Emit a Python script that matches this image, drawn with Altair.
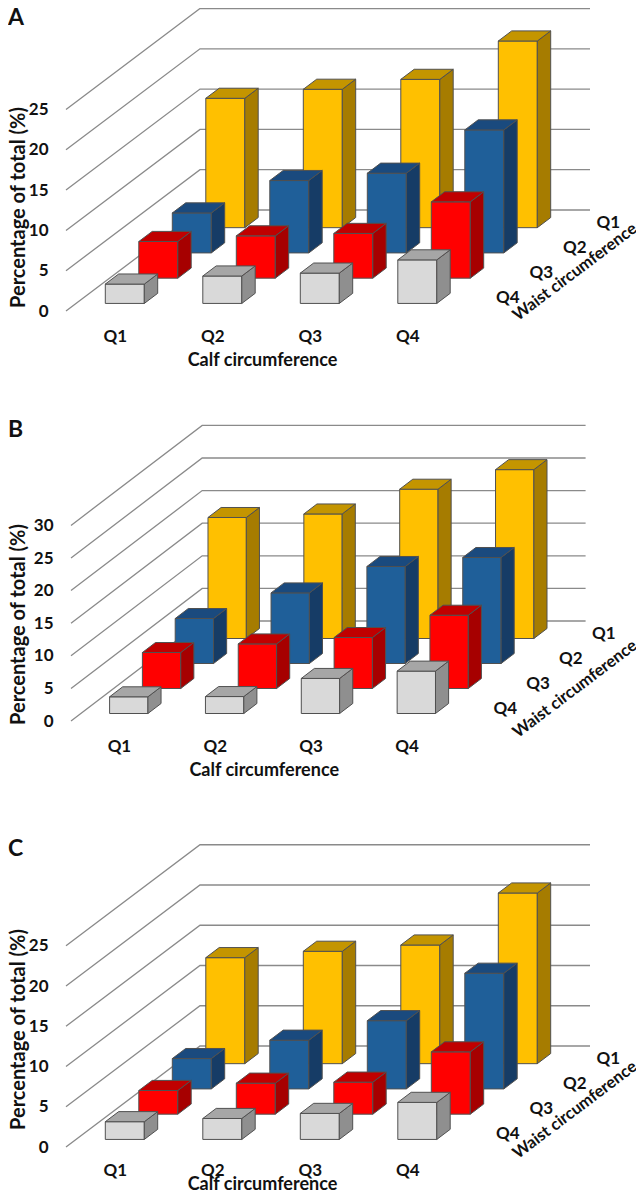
import altair as alt
import pandas as pd

# Calf circumference Q1..Q4 for each waist circumference row
a_waist_q4 = [2.4, 3.4, 3.76, 5.4]
a_waist_q3 = [4.55, 5.25, 5.55, 9.47]
a_waist_q2 = [4.96, 8.98, 9.89, 15.26]
a_waist_q1 = [16.05, 17.17, 18.4, 23.16]

b_waist_q4 = [2.56, 2.6, 5.38, 6.5]
b_waist_q3 = [5.52, 6.84, 7.82, 11.24]
b_waist_q2 = [6.9, 10.83, 14.88, 16.26]
b_waist_q1 = [18.56, 19.1, 22.9, 25.9]

c_waist_q4 = [2.2, 2.6, 3.23, 4.6]
c_waist_q3 = [2.94, 3.85, 3.98, 7.74]
c_waist_q2 = [3.77, 6.05, 8.48, 14.37]
c_waist_q1 = [13.17, 13.96, 14.74, 21.2]

quartiles = ["Q1", "Q2", "Q3", "Q4"]
ticks_ab = [0, 5, 10, 15, 20, 25]
ticks_b = [0, 5, 10, 15, 20, 25, 30]

row_palettes = [  # front, side, top; front row first
    ("#D9D9D9", "#8F8F8F", "#A6A6A6"),
    ("#FF0000", "#A60000", "#C00000"),
    ("#1F5F99", "#163C66", "#1A4A7E"),
    ("#FFC000", "#A67C00", "#C49500"),
]

FONT = "Lato"
TEXT = "#111111"
LEFT = 60      # image x of every view's left edge
VIEW_W = 570
GAP = 100


def panel(letter, rows, ticks, ox, ux, dx, dy, vu, bottom, top, right_wall,
          label_pad, ytitle_x, ytitle_y, letter_y, wt_xy, xlabel_pad=17, xtitle_y=49):
    H = bottom - top
    kx, ky = dx / ux, dy / vu

    def proj(c, v, z):
        return c + z * kx, v + z * ky

    xscale = alt.Scale(domain=[(LEFT - ox) / ux, (LEFT + VIEW_W - ox) / ux], nice=False, zero=False)
    yscale = alt.Scale(domain=[0, H / vu], nice=False, zero=False)

    grid = []
    for t in ticks:
        for k, (c, z) in enumerate([(0, 0), (0, 4), (right_wall, 4)]):
            X, Y = proj(c, t, z)
            grid.append(dict(t=t, k=k, X=X, Y=Y))

    faces = []
    fid = 0
    for r in [3, 2, 1, 0]:
        for c, v in enumerate(rows[r]):
            c0, c1, z0, z1 = c + .3, c + .7, r + .3, r + .7
            front, side, topc = row_palettes[r]
            polys = [
                (front, [(c0, 0, z0), (c1, 0, z0), (c1, v, z0), (c0, v, z0)]),
                (side, [(c1, 0, z0), (c1, 0, z1), (c1, v, z1), (c1, v, z0)]),
                (topc, [(c0, v, z0), (c1, v, z0), (c1, v, z1), (c0, v, z1)]),
            ]
            for col, pts in polys:
                for k, p in enumerate(pts):
                    X, Y = proj(*p)
                    faces.append(dict(fid=f"f{fid:03d}", k=k, X=X, Y=Y, col=col))
                fid += 1

    waist = []
    for r, name in enumerate(reversed(quartiles)):
        X, Y = proj(4.36, 0, r + .5)
        waist.append(dict(X=X, Y=Y, name=name))

    xaxis = alt.Axis(values=[.5, 1.5, 2.5, 3.5], labelExpr="'Q' + (datum.value + 0.5)",
                     domain=False, ticks=False, tickSize=0, grid=False,
                     labelPadding=xlabel_pad, labelFont=FONT, labelFontWeight="bold", labelFontSize=17,
                     labelColor=TEXT, title="Calf circumference", titleFont=FONT,
                     titleFontWeight="bold", titleFontSize=18, titleColor=TEXT,
                     titleX=ox + 2 * ux - LEFT + 1, titleY=xtitle_y, titleAlign="center", titleBaseline="middle")
    yaxis = alt.Axis(values=ticks, domain=False, ticks=False, tickSize=0, grid=False,
                     labelPadding=label_pad, labelFont=FONT, labelFontWeight="bold", labelFontSize=17,
                     labelColor=TEXT, title="Percentage of total (%)", titleFont=FONT,
                     titleFontWeight="bold", titleFontSize=20, titleColor=TEXT,
                     titleX=ytitle_x, titleY=ytitle_y, titleAlign="center", titleBaseline="middle", titleAngle=270)

    g = alt.Chart(pd.DataFrame(grid)).mark_line(stroke="#8A8A8A", strokeWidth=1.3).encode(
        x=alt.X("X:Q", scale=xscale, axis=xaxis),
        y=alt.Y("Y:Q", scale=yscale, axis=yaxis),
        detail="t:N", order="k:Q")
    bars = alt.Chart(pd.DataFrame(faces)).mark_line(
        interpolate="linear-closed", stroke="#505050", strokeWidth=1).encode(
        x=alt.X("X:Q", scale=xscale, axis=xaxis),
        y=alt.Y("Y:Q", scale=yscale, axis=yaxis),
        detail="fid:N", order="k:Q", fill=alt.Fill("col:N", scale=None, legend=None))
    wl = alt.Chart(pd.DataFrame(waist)).mark_text(
        font=FONT, fontWeight="bold", fontSize=17, color=TEXT).encode(
        x=alt.X("X:Q", scale=xscale, axis=xaxis),
        y=alt.Y("Y:Q", scale=yscale, axis=yaxis), text="name:N")
    wt = alt.Chart(pd.DataFrame({"t": ["Waist circumference"]})).mark_text(
        font=FONT, fontWeight="bold", fontSize=16.5, color=TEXT, angle=323).encode(
        x=alt.value(wt_xy[0] - LEFT), y=alt.value(wt_xy[1] - top), text="t:N")
    lt = alt.Chart(pd.DataFrame({"t": [letter]})).mark_text(
        font=FONT, fontWeight="bold", fontSize=23, color=TEXT, align="left", baseline="alphabetic").encode(
        x=alt.value(8 - LEFT), y=alt.value(letter_y - top), text="t:N")
    return alt.layer(g, bars, wl, wt, lt).properties(width=VIEW_W, height=H)


pA = panel("A", [a_waist_q4, a_waist_q3, a_waist_q2, a_waist_q1], ticks_ab,
           66, 97.5, 33.5, 25.25, 8.06, 311, 8, 4, 12, 18 - LEFT, 207 - 8, 25, (575, 272))
pB = panel("B", [b_waist_q4, b_waist_q3, b_waist_q2, b_waist_q1], ticks_b,
           71, 95.85, 32.8, 25.0, 6.52, 721, 311 + GAP, 4, 7, 18 - LEFT, 624 - 411, 437, (575, 689))
pC = panel("C", [c_waist_q4, c_waist_q3, c_waist_q2, c_waist_q1], ticks_ab,
           66, 97.5, 33.5, 25.25, 8.05, 1147, 721 + GAP, 4, 12, 18 - LEFT, 1029 - 821, 856, (575, 1110),
           xlabel_pad=15, xtitle_y=37.5)

chart = alt.vconcat(pA, pB, pC, spacing=GAP, bounds="flush").properties(
    padding={"left": LEFT - 8, "right": 6, "top": 0, "bottom": 1184},
    autosize=alt.AutoSizeParams(type="none"),
).configure_view(stroke=None)
chart.save("out.html", embed_options={"renderer": "svg", "actions": False})
